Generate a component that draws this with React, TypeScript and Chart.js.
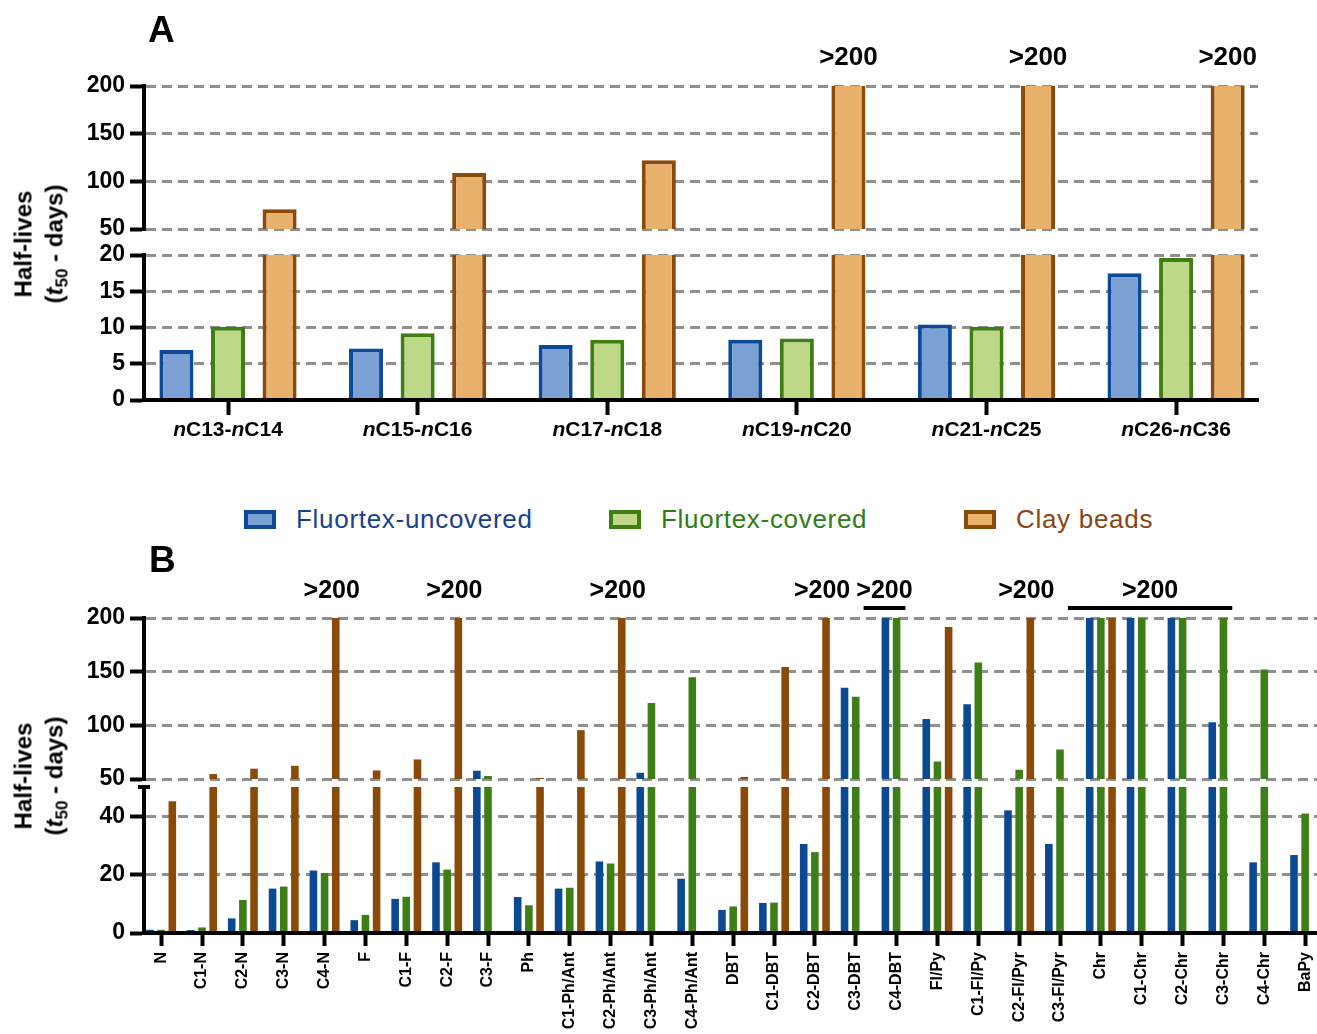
import React, { useEffect, useRef } from 'react';
import { Chart, registerables } from 'chart.js';

Chart.register(...registerables);

const FONT = '"Liberation Sans", Arial, Helvetica, sans-serif';
Chart.defaults.font.family = FONT;

// ---------- data ----------
const SERIES = ['Fluortex-uncovered', 'Fluortex-covered', 'Clay beads'];
// stand-in value for bars reported as ">200" (drawn clipped at the axis top)
const OVER_200 = 210;

// Panel A
const A_CATEGORIES = ['nC13-nC14', 'nC15-nC16', 'nC17-nC18', 'nC19-nC20', 'nC21-nC25', 'nC26-nC36'];
const A_UNCOVERED = [6.9, 7.1, 7.6, 8.3, 10.4, 17.5];
const A_COVERED = [10.1, 9.2, 8.3, 8.5, 10.1, 19.6];
const A_CLAY = [70.8, 108.8, 122, OVER_200, OVER_200, OVER_200];
const A_UPPER_RANGE = [50, 200];
const A_LOWER_RANGE = [0, 20];
const A_UPPER_TICKS = [50, 100, 150, 200];
const A_LOWER_TICKS = [0, 5, 10, 15, 20];

// Panel B
const B_CATEGORIES = [
  'N', 'C1-N', 'C2-N', 'C3-N', 'C4-N', 'F', 'C1-F', 'C2-F', 'C3-F', 'Ph',
  'C1-Ph/Ant', 'C2-Ph/Ant', 'C3-Ph/Ant', 'C4-Ph/Ant', 'DBT', 'C1-DBT', 'C2-DBT', 'C3-DBT', 'C4-DBT',
  'Fl/Py', 'C1-Fl/Py', 'C2-Fl/Pyr', 'C3-Fl/Pyr', 'Chr', 'C1-Chr', 'C2-Chr', 'C3-Chr', 'C4-Chr', 'BaPy',
];
const B_UNCOVERED = [1.1, 1.0, 5.0, 15.2, 21.4, 4.4, 11.7, 24.2, 57.7, 12.3, 15.2, 24.5, 55.8, 18.6, 7.9, 10.3, 30.5, 135, OVER_200, 106, 119.6, 42, 30.5, OVER_200, OVER_200, OVER_200, 102.9, 24.2, 26.7];
const B_COVERED = [1.1, 1.9, 11.3, 15.9, 20.5, 6.2, 12.4, 21.7, 52.8, 9.5, 15.5, 23.8, 120.8, 144.7, 9.1, 10.4, 27.7, 126.7, OVER_200, 66.3, 158.6, 58.6, 77.5, OVER_200, OVER_200, OVER_200, OVER_200, 152, 40.9];
const B_CLAY = [45.1, 54.6, 59.6, 62.3, OVER_200, 58, 68.2, OVER_200, null, 51, 95.5, OVER_200, null, null, 51.9, 154.3, OVER_200, null, null, 191.7, null, OVER_200, null, OVER_200, null, null, null, null, null];
const B_UPPER_RANGE = [50, 200];
const B_LOWER_RANGE = [0, 50];
const B_UPPER_TICKS = [50, 100, 150, 200];
const B_LOWER_TICKS = [0, 20, 40];
const B_OVER_MARKS = [
  { first: 'C4-N', last: 'C4-N', series: [2], underline: false },
  { first: 'C2-F', last: 'C2-F', series: [2], underline: false },
  { first: 'C2-Ph/Ant', last: 'C2-Ph/Ant', series: [2], underline: false },
  { first: 'C2-DBT', last: 'C2-DBT', series: [2], underline: false },
  { first: 'C4-DBT', last: 'C4-DBT', series: [0, 1], underline: true },
  { first: 'C2-Fl/Pyr', last: 'C2-Fl/Pyr', series: [2], underline: false },
  { first: 'Chr', last: 'C3-Chr', series: [0, 1, 2], underline: true },
];

// ---------- styles ----------
const A_STYLES = [
  { bg: '#7ba1d4', border: '#0b4a97', borderWidth: 4 },
  { bg: '#bdd887', border: '#3f7e12', borderWidth: 4 },
  { bg: '#e8b26d', border: '#8b4a0b', borderWidth: 4 },
];
const B_STYLES = [
  { bg: '#0b4a93', border: '#0b4a93', borderWidth: 0 },
  { bg: '#3e7e17', border: '#3e7e17', borderWidth: 0 },
  { bg: '#8a4a08', border: '#8a4a08', borderWidth: 0 },
];
const LEGEND_STYLES = [
  { fill: '#7ba1d4', border: '#0b4a97', text: '#1b3f8f' },
  { fill: '#bdd887', border: '#3f7e12', text: '#2f7d16' },
  { fill: '#e8b26d', border: '#8b4a0b', text: '#8a4514' },
];

// ---------- plugins ----------
const aOverPlugin = {
  id: 'aOver',
  afterDatasetsDraw(chart: any) {
    const ctx = chart.ctx;
    const meta = chart.getDatasetMeta(2);
    ctx.save();
    ctx.font = `bold 26px ${FONT}`;
    ctx.fillStyle = '#000';
    ctx.textAlign = 'center';
    ctx.textBaseline = 'middle';
    A_CLAY.forEach((v, i) => {
      if (v != null && v > 200) ctx.fillText('>200', meta.data[i].x, chart.chartArea.top - 28);
    });
    ctx.restore();
  },
};

const bOverPlugin = {
  id: 'bOver',
  afterDatasetsDraw(chart: any) {
    const ctx = chart.ctx;
    const top = chart.chartArea.top;
    const all = [B_UNCOVERED, B_COVERED, B_CLAY];
    ctx.save();
    ctx.font = `bold 25px ${FONT}`;
    ctx.fillStyle = '#000';
    ctx.strokeStyle = '#000';
    ctx.textAlign = 'center';
    ctx.textBaseline = 'middle';
    B_OVER_MARKS.forEach((m) => {
      const i0 = B_CATEGORIES.indexOf(m.first);
      const i1 = B_CATEGORIES.indexOf(m.last);
      let lo = Infinity;
      let hi = -Infinity;
      for (let i = i0; i <= i1; i++) {
        m.series.forEach((s) => {
          const v = all[s][i];
          if (v != null && v > 200) {
            const el = chart.getDatasetMeta(s).data[i];
            lo = Math.min(lo, el.x - el.width / 2);
            hi = Math.max(hi, el.x + el.width / 2);
          }
        });
      }
      let cx = (lo + hi) / 2;
      if (m.underline) {
        lo -= 18;
        hi += 5;
        cx = (lo + hi) / 2;
        ctx.lineWidth = 4;
        ctx.beginPath();
        ctx.moveTo(lo, top - 10);
        ctx.lineTo(hi, top - 10);
        ctx.stroke();
      } else {
        cx -= 4;
      }
      ctx.fillText('>200', cx, top - 27);
    });
    ctx.restore();
  },
};

const aLabelPlugin = {
  id: 'aLabels',
  afterDraw(chart: any) {
    const ctx = chart.ctx;
    const xs = chart.scales.x;
    const y = chart.chartArea.bottom + 30;
    ctx.save();
    ctx.fillStyle = '#000';
    ctx.textBaseline = 'middle';
    ctx.textAlign = 'left';
    A_CATEGORIES.forEach((lab, i) => {
      const parts = lab.split(/(n)(?=C)/).filter((p) => p.length > 0);
      const fonts = parts.map((p) => (p === 'n' ? `italic bold 21px ${FONT}` : `bold 21px ${FONT}`));
      const widths = parts.map((p, k) => {
        ctx.font = fonts[k];
        return ctx.measureText(p).width;
      });
      const total = widths.reduce((a, b) => a + b, 0);
      let x = xs.getPixelForValue(i) - total / 2;
      parts.forEach((p, k) => {
        ctx.font = fonts[k];
        ctx.fillText(p, x, y);
        x += widths[k];
      });
    });
    ctx.restore();
  },
};

const breakCapPlugin = {
  id: 'breakCap',
  afterDraw(chart: any) {
    const { ctx, chartArea } = chart;
    ctx.save();
    ctx.fillStyle = '#000';
    ctx.fillRect(chartArea.left - 6, chartArea.top - 2, 12, 4);
    ctx.restore();
  },
};

// ---------- config builder ----------
interface PanelOpts {
  categories: string[];
  series: (number | null)[][];
  styles: { bg: string; border: string; borderWidth: number }[];
  categoryPercentage: number;
  barPercentage: number;
  xMin: number;
  xMax: number;
  yMin: number;
  yMax: number;
  yTicks: number[];
  showX: boolean;
  xTickLabels: boolean;
  xTickLength: number;
  xAxisHeight: number;
  padding: { top: number; right: number; bottom: number; left: number };
  plugins: any[];
}

function barConfig(o: PanelOpts): any {
  const idx = o.categories.map((_, i) => i);
  return {
    type: 'bar',
    data: {
      labels: idx,
      datasets: o.series.map((data, k) => ({
        label: SERIES[k],
        data,
        backgroundColor: o.styles[k].bg,
        borderColor: o.styles[k].border,
        borderWidth: o.styles[k].borderWidth,
        borderSkipped: 'start',
        clip: 0,
        categoryPercentage: o.categoryPercentage,
        barPercentage: o.barPercentage,
      })),
    },
    options: {
      animation: false,
      responsive: false,
      devicePixelRatio: 1,
      events: [],
      layout: { padding: o.padding },
      plugins: { legend: { display: false }, tooltip: { enabled: false } },
      scales: {
        x: {
          type: 'linear',
          display: o.showX,
          min: o.xMin,
          max: o.xMax,
          offset: false,
          bounds: 'data',
          grid: {
            display: true,
            drawOnChartArea: false,
            drawTicks: true,
            tickLength: o.xTickLength,
            tickWidth: 4,
            tickColor: '#000',
            offset: false,
          },
          border: { display: true, color: '#000', width: 4, z: 1 },
          ticks: {
            display: o.xTickLabels,
            autoSkip: false,
            minRotation: 90,
            maxRotation: 90,
            padding: 6,
            color: '#000',
            font: { size: 16, weight: 'bold' },
            callback: (v: number) => o.categories[v] ?? '',
          },
          afterBuildTicks: (s: any) => {
            s.ticks = idx.map((v) => ({ value: v }));
          },
          afterFit: (s: any) => {
            s.height = o.xAxisHeight;
          },
        },
        y: {
          type: 'linear',
          min: o.yMin,
          max: o.yMax,
          beginAtZero: false,
          grid: {
            color: '#8f8f8f',
            lineWidth: 3,
            drawTicks: true,
            tickLength: 14,
            tickWidth: 4,
            tickColor: '#000',
          },
          border: { display: true, color: '#000', width: 4, dash: [10, 6], z: 1 },
          ticks: { color: '#000', padding: 5, font: { size: 23, weight: 'bold' } },
          afterBuildTicks: (s: any) => {
            s.ticks = o.yTicks.map((v) => ({ value: v }));
          },
          afterFit: (s: any) => {
            s.width = 144;
          },
        },
      },
    },
    plugins: o.plugins,
  };
}

// ---------- chart specs ----------
interface ChartSpec {
  left: number;
  top: number;
  width: number;
  height: number;
  config: () => any;
}

const A_X = { xMin: -0.443, xMax: 5.432, categoryPercentage: 0.816, barPercentage: 0.66 };
const B_X = { xMin: -0.42, xMax: 28.29, categoryPercentage: 0.82, barPercentage: 0.68 };

const SPECS: ChartSpec[] = [
  {
    left: 0, top: 40, width: 1317, height: 210,
    config: () => barConfig({
      categories: A_CATEGORIES, series: [A_UNCOVERED, A_COVERED, A_CLAY], styles: A_STYLES, ...A_X,
      yMin: A_UPPER_RANGE[0], yMax: A_UPPER_RANGE[1], yTicks: A_UPPER_TICKS,
      showX: false, xTickLabels: false, xTickLength: 15, xAxisHeight: 0,
      padding: { top: 46, right: 59, bottom: 21, left: 0 }, plugins: [aOverPlugin],
    }),
  },
  {
    left: 0, top: 235, width: 1317, height: 240,
    config: () => barConfig({
      categories: A_CATEGORIES, series: [A_UNCOVERED, A_COVERED, A_CLAY], styles: A_STYLES, ...A_X,
      yMin: A_LOWER_RANGE[0], yMax: A_LOWER_RANGE[1], yTicks: A_LOWER_TICKS,
      showX: true, xTickLabels: false, xTickLength: 15, xAxisHeight: 50,
      padding: { top: 20, right: 59, bottom: 25, left: 0 }, plugins: [aLabelPlugin],
    }),
  },
  {
    left: 0, top: 560, width: 1340, height: 240,
    config: () => barConfig({
      categories: B_CATEGORIES, series: [B_UNCOVERED, B_COVERED, B_CLAY], styles: B_STYLES, ...B_X,
      yMin: B_UPPER_RANGE[0], yMax: B_UPPER_RANGE[1], yTicks: B_UPPER_TICKS,
      showX: false, xTickLabels: false, xTickLength: 13, xAxisHeight: 0,
      padding: { top: 58, right: 23, bottom: 21, left: 0 }, plugins: [bOverPlugin],
    }),
  },
  {
    left: 0, top: 765, width: 1340, height: 300,
    config: () => barConfig({
      categories: B_CATEGORIES, series: [B_UNCOVERED, B_COVERED, B_CLAY], styles: B_STYLES, ...B_X,
      yMin: B_LOWER_RANGE[0], yMax: B_LOWER_RANGE[1], yTicks: B_LOWER_TICKS,
      showX: true, xTickLabels: true, xTickLength: 13, xAxisHeight: 130,
      padding: { top: 22, right: 23, bottom: 2, left: 0 }, plugins: [breakCapPlugin],
    }),
  },
];

function ChartCanvas({ spec }: { spec: ChartSpec }) {
  const ref = useRef<HTMLCanvasElement | null>(null);
  useEffect(() => {
    if (!ref.current) return;
    const chart = new Chart(ref.current, spec.config());
    return () => chart.destroy();
  }, [spec]);
  return (
    <canvas
      ref={ref}
      width={spec.width}
      height={spec.height}
      style={{ position: 'absolute', left: spec.left, top: spec.top, width: spec.width, height: spec.height }}
    />
  );
}

function YTitle({ cx, cy }: { cx: number; cy: number }) {
  return (
    <div
      style={{
        position: 'absolute',
        left: cx,
        top: cy,
        transform: 'translate(-50%, -50%) rotate(-90deg)',
        textAlign: 'center',
        fontWeight: 'bold',
        fontSize: 24,
        lineHeight: '31px',
        whiteSpace: 'nowrap',
        color: '#000',
      }}
    >
      Half-lives
      <br />
      (<i>t</i>
      <span style={{ fontSize: 17, position: 'relative', top: 5 }}>50</span> - days)
    </div>
  );
}

const LEGEND_LEFTS = [244, 609, 964];

export default function App() {
  return (
    <div
      style={{
        position: 'fixed',
        left: 0,
        top: 0,
        width: 1317,
        height: 1034,
        overflow: 'hidden',
        background: '#fff',
        fontFamily: FONT,
      }}
    >
      {SPECS.map((s, i) => (
        <ChartCanvas key={i} spec={s} />
      ))}
      <div style={{ position: 'absolute', left: 148, top: 12, fontSize: 37, lineHeight: '36px', fontWeight: 'bold' }}>A</div>
      <div style={{ position: 'absolute', left: 149, top: 542, fontSize: 37, lineHeight: '36px', fontWeight: 'bold' }}>B</div>
      <YTitle cx={40} cy={244} />
      <YTitle cx={40} cy={776} />
      {SERIES.map((name, k) => (
        <div
          key={name}
          style={{
            position: 'absolute',
            left: LEGEND_LEFTS[k],
            top: 503,
            height: 32,
            display: 'flex',
            alignItems: 'center',
            whiteSpace: 'nowrap',
          }}
        >
          <div
            style={{
              width: 32,
              height: 19,
              boxSizing: 'border-box',
              border: `4px solid ${LEGEND_STYLES[k].border}`,
              background: LEGEND_STYLES[k].fill,
            }}
          />
          <span style={{ marginLeft: 20, fontSize: 26, letterSpacing: '0.7px', color: LEGEND_STYLES[k].text }}>{name}</span>
        </div>
      ))}
    </div>
  );
}
